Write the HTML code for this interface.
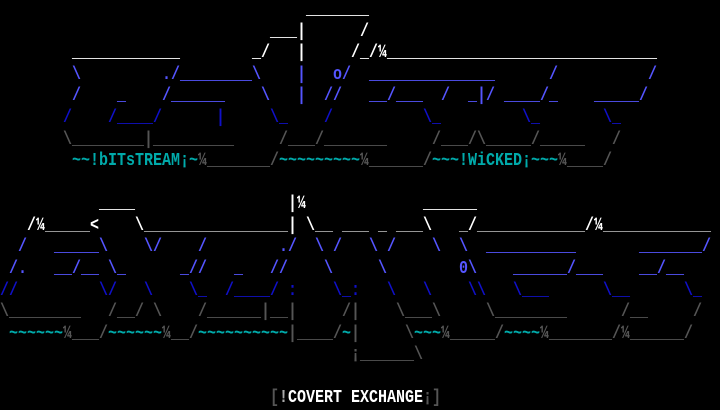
<!DOCTYPE html>
<html><head><meta charset="utf-8"><style>
html,body{margin:0;padding:0;background:#000;}
#c{position:relative;width:720px;height:410px;overflow:hidden;background:#000;font-family:"Liberation Mono","DejaVu Sans Mono",monospace;font-size:15px;font-weight:bold;}
.r{position:absolute;left:0;width:720px;height:22px;line-height:21.58px;transform:scaleY(1.2);transform-origin:0 14px;}
.r span{position:absolute;top:0;white-space:pre;}
.W{color:#fff}.L{color:#aaa}.B{color:#5555ff}.D{color:#1010c8}.G{color:#555}.C{color:#00aaaa}
</style></head><body><div id="c">
<div class="r W" style="top:0px"><span style="left:306px">_______</span></div>
<div class="r W" style="top:21.6px"><span style="left:270px">___</span><span style="left:297px">|</span><span style="left:360px">/</span></div>
<div class="r W" style="top:43.2px"><span style="left:72px">____________</span><span style="left:252px">_/</span><span style="left:297px">|</span><span style="left:351px">/_/¼______________________________</span></div>
<div class="r B" style="top:64.7px"><span style="left:72px">\</span><span style="left:162px">./________\</span><span style="left:297px">|</span><span style="left:333px">o/</span><span style="left:369px">______________</span><span style="left:549px">/</span><span style="left:648px">/</span></div>
<div class="r B" style="top:86.3px"><span style="left:72px">/</span><span style="left:117px">_</span><span style="left:162px">/______</span><span style="left:261px">\</span><span style="left:297px">|</span><span style="left:324px">//</span><span style="left:369px">__/___</span><span style="left:441px">/</span><span style="left:468px">_|/</span><span style="left:504px">____/_</span><span style="left:594px">_____/</span></div>
<div class="r D" style="top:107.9px"><span style="left:63px">/</span><span style="left:108px">/____/</span><span style="left:216px">|</span><span style="left:270px">\_</span><span style="left:324px">/</span><span style="left:423px">\_</span><span style="left:522px">\_</span><span style="left:603px">\_</span></div>
<div class="r G" style="top:129.5px"><span style="left:63px">\________|_________</span><span style="left:279px">/___/_______</span><span style="left:432px">/___/\_____/_____</span><span style="left:612px">/</span></div>
<div class="r" style="top:151.1px"><span class="C" style="left:72px">~~!bITsTREAM¡~</span><span class="G" style="left:198px">¼_______/</span><span class="C" style="left:279px">~~~~~~~~~</span><span class="G" style="left:360px">¼______/</span><span class="C" style="left:432px">~~~!WiCKED¡~~~</span><span class="G" style="left:558px">¼____/</span></div>
<div class="r W" style="top:194.2px"><span style="left:99px">____</span><span style="left:288px">|¼</span><span style="left:423px">______</span></div>
<div class="r" style="top:215.8px"><span class="W" style="left:27px">/¼</span><span class="L" style="left:45px">_____</span><span class="W" style="left:90px">&lt;</span><span class="W" style="left:135px">\</span><span class="L" style="left:144px">________________</span><span class="W" style="left:288px">|</span><span class="W" style="left:306px">\</span><span class="L" style="left:315px">__ ___ _ ___</span><span class="W" style="left:423px">\</span><span class="L" style="left:459px">_</span><span class="W" style="left:468px">/</span><span class="L" style="left:477px">____________</span><span class="W" style="left:585px">/¼</span><span class="L" style="left:603px">____________</span></div>
<div class="r B" style="top:237.4px"><span style="left:18px">/</span><span style="left:54px">_____</span><span style="left:99px">\</span><span style="left:144px">\/</span><span style="left:198px">/</span><span style="left:279px">./</span><span style="left:315px">\ /</span><span style="left:369px">\ /</span><span style="left:432px">\</span><span style="left:459px">\</span><span style="left:486px">__________</span><span style="left:639px">_______/</span></div>
<div class="r B" style="top:259px"><span style="left:9px">/.</span><span style="left:54px">__/__</span><span style="left:108px">\_</span><span style="left:180px">_//</span><span style="left:234px">_</span><span style="left:270px">//</span><span style="left:324px">\</span><span style="left:378px">\</span><span style="left:459px">0\</span><span style="left:513px">______/___</span><span style="left:639px">__/__</span></div>
<div class="r D" style="top:280.5px"><span style="left:0px">//</span><span style="left:99px">\/</span><span style="left:144px">\</span><span style="left:189px">\_</span><span style="left:225px">/____/</span><span style="left:288px">:</span><span style="left:333px">\_:</span><span style="left:387px">\</span><span style="left:423px">\</span><span style="left:468px">\\</span><span style="left:513px">\___</span><span style="left:603px">\__</span><span style="left:684px">\_</span></div>
<div class="r G" style="top:302.1px"><span style="left:0px">\________</span><span style="left:108px">/__/</span><span style="left:153px">\</span><span style="left:198px">/______|__|</span><span style="left:342px">/|</span><span style="left:396px">\___\</span><span style="left:486px">\________</span><span style="left:621px">/__</span><span style="left:693px">/</span></div>
<div class="r" style="top:323.7px"><span class="C" style="left:9px">~~~~~~</span><span class="G" style="left:63px">¼___/</span><span class="C" style="left:108px">~~~~~~</span><span class="G" style="left:162px">¼__/</span><span class="C" style="left:198px">~~~~~~~~~~</span><span class="G" style="left:288px">|____/</span><span class="C" style="left:342px">~</span><span class="G" style="left:351px">|</span><span class="G" style="left:405px">\</span><span class="C" style="left:414px">~~~</span><span class="G" style="left:441px">¼_____/</span><span class="C" style="left:504px">~~~~</span><span class="G" style="left:540px">¼_______/</span><span class="G" style="left:621px">¼______/</span></div>
<div class="r G" style="top:345.3px"><span style="left:351px">¡______\</span></div>
<div class="r" style="top:388.4px"><span class="G" style="left:270px">[</span><span class="L" style="left:279px">!</span><span class="W" style="left:288px">COVERT EXCHANGE</span><span class="G" style="left:423px">¡]</span></div>
</div></body></html>
